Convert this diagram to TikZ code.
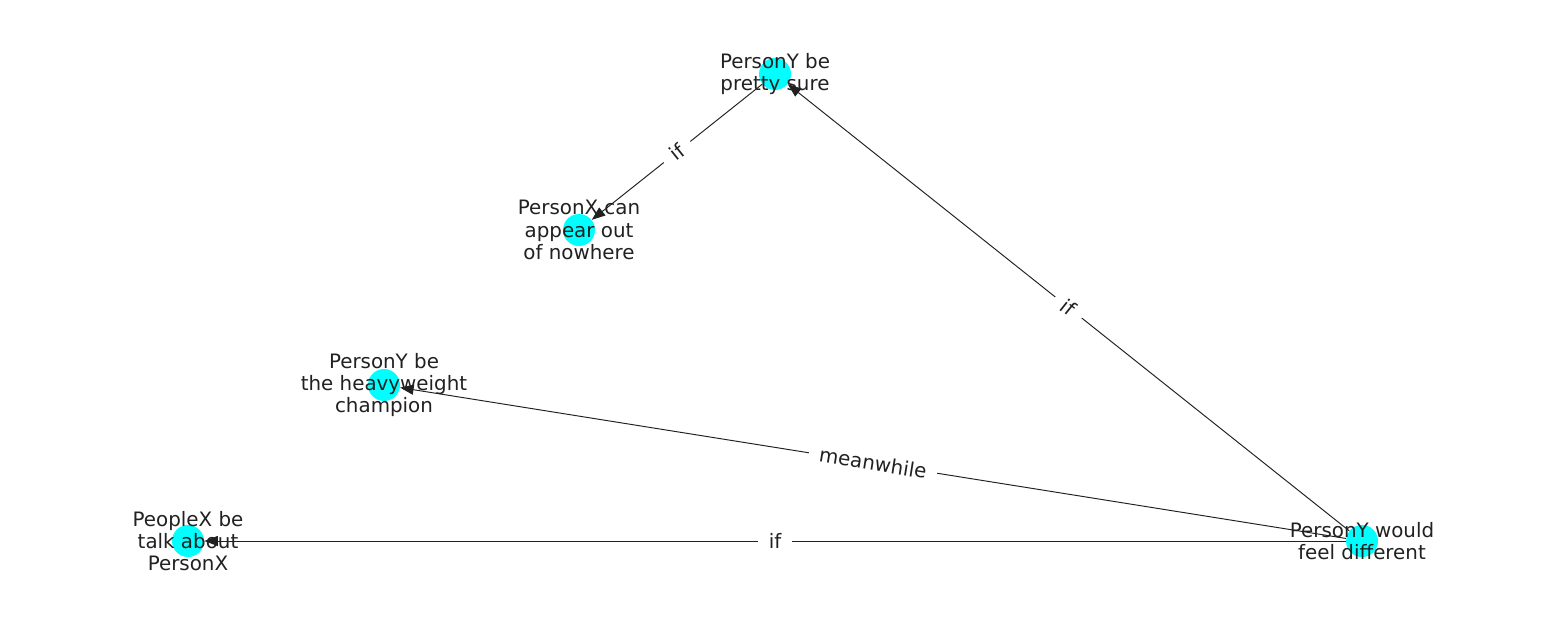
\documentclass[tikz,border=0pt]{standalone}
\usepackage{fontspec}
\setmainfont{DejaVu Sans}
\usepackage{tikz}
\usetikzlibrary{arrows.meta}
\definecolor{nodecyan}{rgb}{0.0,1.0,1.0}
\definecolor{ink}{rgb}{0.13,0.13,0.13}
\tikzset{
  event/.style={circle, fill=nodecyan, minimum size=0.64cm, inner sep=0pt},
  eventtext/.style={align=center, text=ink, font=\fontsize{11.3}{12.6}\selectfont, inner sep=0pt},
  rel/.style={-{Triangle[length=0.27cm,width=0.2cm]}, line width=0.55pt, ink},
  rellabel/.style={fill=white, text=ink, font=\fontsize{11.3}{12.6}\selectfont, inner xsep=6pt, inner ysep=3pt, sloped, midway}
}

\begin{document}
\begin{tikzpicture}[x=0.02cm, y=-0.02cm]
\useasboundingbox (0,0) rectangle (1550,616);
% events
\node[event] (sure) at (775,74) {};
\node[event] (nowhere) at (579,230) {};
\node[event] (champ) at (384,385) {};
\node[event] (talk) at (188,541) {};
\node[event] (diff) at (1362,541) {};
% relations
\draw[rel] (sure) -- (nowhere) node[rellabel] {if};
\draw[rel] (diff) -- (sure) node[rellabel] {if};
\draw[rel] (diff) -- (champ) node[rellabel] {meanwhile};
\draw[rel] (diff) -- (talk) node[rellabel] {if};
% texts
\node[eventtext] at (sure) {PersonY be\\pretty sure};
\node[eventtext] at (nowhere) {PersonX can\\appear out\\of nowhere};
\node[eventtext] at (champ) {PersonY be\\the heavyweight\\champion};
\node[eventtext] at (talk) {PeopleX be\\talk about\\PersonX};
\node[eventtext] at (diff) {PersonY would\\feel different};
\end{tikzpicture}
\end{document}
